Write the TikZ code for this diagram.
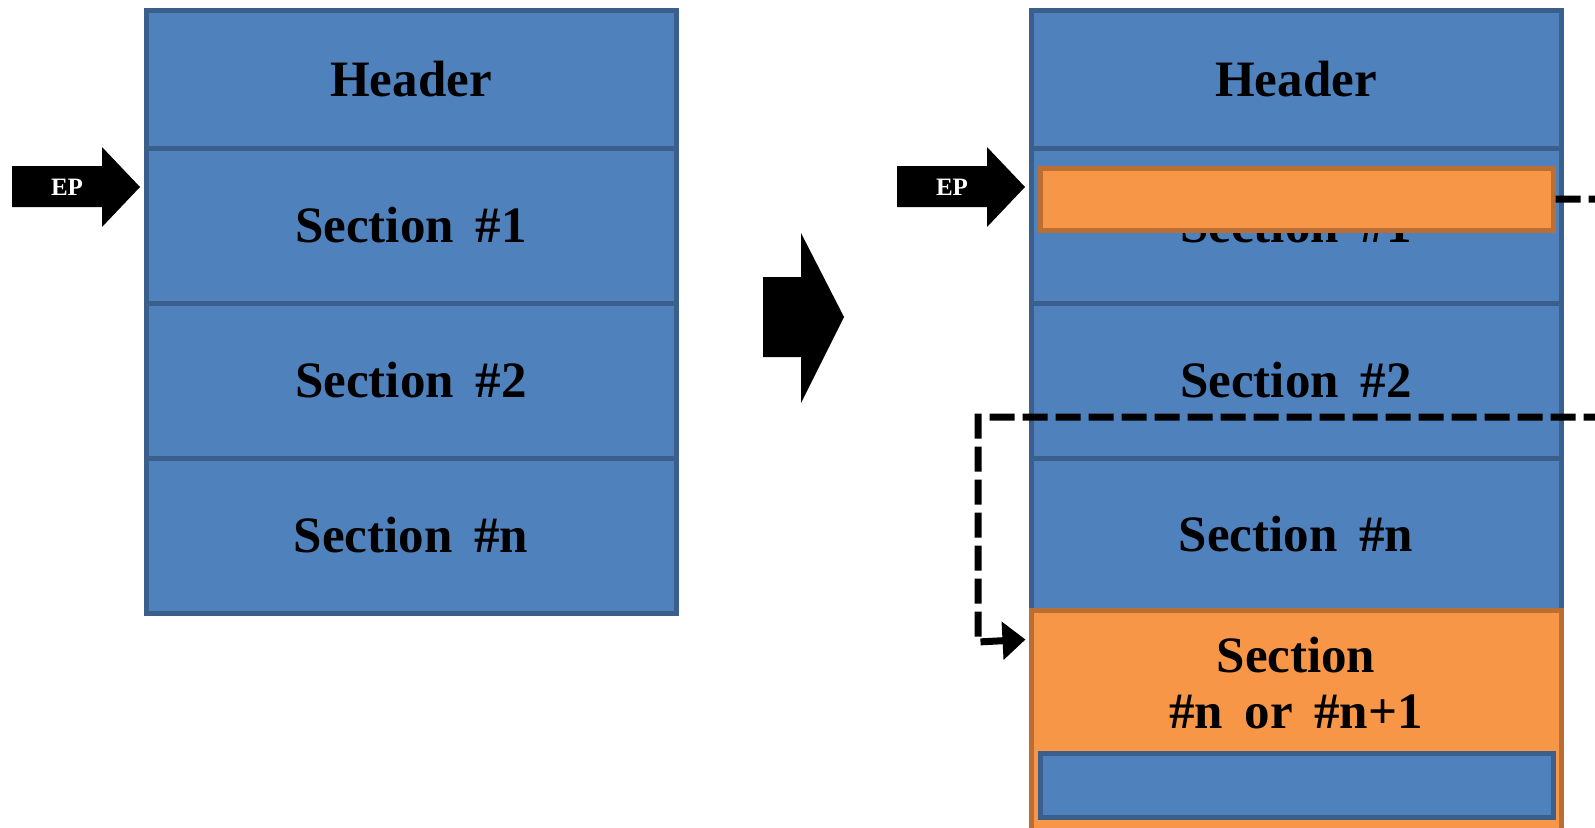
\documentclass[tikz,border=0pt]{standalone}
\usepackage{fontspec}
\setmainfont{Liberation Serif}[WordSpace=1.7]
\usetikzlibrary{arrows.meta,calc}
\definecolor{bluefill}{HTML}{4F81BD}
\definecolor{bluebd}{HTML}{3A5F8D}
\definecolor{orfill}{HTML}{F79646}
\definecolor{orbd}{HTML}{BB6E33}
\begin{document}
\begin{tikzpicture}[x=1pt,y=-1pt,
  blk/.style={draw=bluebd, fill=bluefill, line width=5pt, minimum width=530pt, inner sep=0pt,
              font=\bfseries\fontsize{51}{56}\selectfont},
  orblk/.style={draw=orbd, fill=orfill, line width=5pt, inner sep=0pt},
  inblk/.style={draw=bluebd, fill=bluefill, line width=5pt, inner sep=0pt},
  txt/.style={inner sep=0pt, align=center, font=\bfseries\fontsize{51}{56}\selectfont},
  eptxt/.style={inner sep=0pt, text=white, font=\bfseries\fontsize{25}{30}\selectfont},
  bigarrow/.style={fill=black},
  flow/.style={draw=black, line width=7pt, dash pattern=on 25pt off 8pt,
               -{Triangle[length=23pt,width=37pt]}}
]
\useasboundingbox (0,0) rectangle (1595,827);
\clip (0,0) rectangle (1595,827);

% left stack
\node[blk, minimum height=138pt] (lh) at (411,79) {Header};
\node[blk, minimum height=155pt] (l1) at (411,225.5) {Section \#1};
\node[blk, minimum height=155pt] (l2) at (411,380.5) {Section \#2};
\node[blk, minimum height=155pt] (ln) at (411,535.5) {Section \#n};

% left EP arrow
\fill (12,166) -- (102,166) -- (102,147) -- (140,187) -- (102,227) -- (102,207) -- (12,207) -- cycle;
\node[eptxt] (ep1) at (67,187) {EP};

% middle big arrow
\fill[bigarrow] (763,277) -- (801,277) -- (801,233) -- (844,317) -- (801,403) -- (801,357) -- (763,357) -- cycle;

% right stack
\node[blk, minimum height=138pt] (rh) at (1296,79) {Header};
\node[blk, minimum height=155pt] (r1) at (1296,225.5) {Section \#1};
\node[blk, minimum height=155pt] (r2) at (1296,380.5) {Section \#2};
\node[blk, minimum height=152pt] (rn) at (1296,534) {Section \#n};
\node[orblk, minimum width=530pt, minimum height=240pt] (os) at (1296,730) {};
\node[txt] (ostxt) at (1296,683) {Section\\\#n or \#n+1};
\node[inblk, minimum width=513pt, minimum height=64pt] (ib) at (1296.5,785) {};
\node[orblk, minimum width=513pt, minimum height=62pt] (ot) at (1296.5,199) {};

% right EP arrow
\fill (897,166) -- (987,166) -- (987,147) -- (1025,187) -- (987,227) -- (987,207) -- (897,207) -- cycle;
\node[eptxt] (ep2) at (952,187) {EP};

% dashed connector
\coordinate (tgt) at ($(os.north west)+(-3,32)$);
\draw[flow] (ot.east) -- (1605,199) -- (1605,417) -- (978,417) -- (978,642) -- (tgt);
\end{tikzpicture}
\end{document}
